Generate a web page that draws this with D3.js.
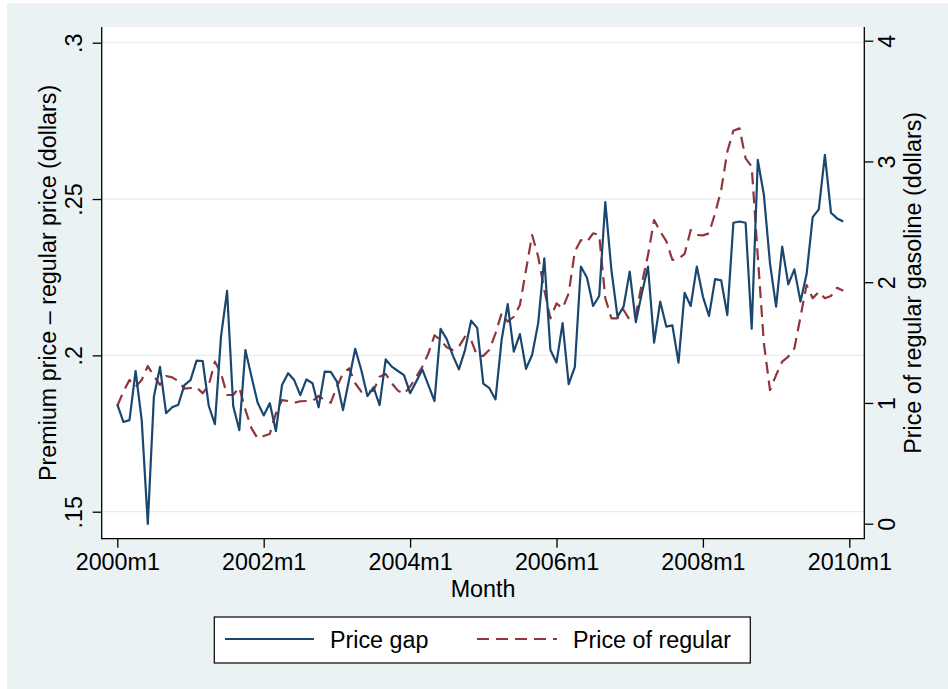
<!DOCTYPE html>
<html>
<head>
<meta charset="utf-8">
<script src="https://cdn.jsdelivr.net/npm/d3@7"></script>
<style>
  html, body { margin: 0; padding: 0; background: #ffffff; }
  svg { display: block; }
  text { font-family: "Liberation Sans", Arial, Helvetica, sans-serif; }
</style>
</head>
<body>
<svg id="chart" width="948" height="689"></svg>
<script>
// ---- data ----
const xTickMonths = [0, 24, 48, 72, 96, 120];
const xTickLabels = ["2000m1", "2002m1", "2004m1", "2006m1", "2008m1", "2010m1"];
const leftTicks = [0.15, 0.2, 0.25, 0.3];
const leftTickLabels = [".15", ".2", ".25", ".3"];
const rightTicks = [0, 1, 2, 3, 4];
const rightTickLabels = ["0", "1", "2", "3", "4"];

// Premium price - regular price (dollars), monthly 2000m1..2009m12
const priceGap = [
  0.1843, 0.1787, 0.1793, 0.1950, 0.1793, 0.1461, 0.1868, 0.1963, 0.1815, 0.1834, 0.1842, 0.1905,
  0.1921, 0.1983, 0.1982, 0.1838, 0.1780, 0.2060, 0.2206, 0.1838, 0.1761, 0.2017, 0.1932, 0.1849,
  0.1808, 0.1847, 0.1758, 0.1905, 0.1943, 0.1921, 0.1873, 0.1923, 0.1911, 0.1834, 0.1948, 0.1947,
  0.1916, 0.1825, 0.1923, 0.2021, 0.1953, 0.1870, 0.1898, 0.1841, 0.1987, 0.1964, 0.1950, 0.1937,
  0.1879, 0.1916, 0.1955, 0.1905, 0.1854, 0.2085, 0.2052, 0.2000, 0.1955, 0.2017, 0.2111, 0.2088,
  0.1910, 0.1895, 0.1859, 0.2049, 0.2164, 0.2012, 0.2068, 0.1957, 0.2001, 0.2103, 0.2310, 0.2017,
  0.1977, 0.2103, 0.1908, 0.1962, 0.2284, 0.2248, 0.2158, 0.2190, 0.2490, 0.2273, 0.2124, 0.2156,
  0.2268, 0.2106, 0.2199, 0.2284, 0.2041, 0.2172, 0.2092, 0.2096, 0.1977, 0.2200, 0.2158, 0.2284,
  0.2188, 0.2126, 0.2244, 0.2240, 0.2129, 0.2424, 0.2428, 0.2424, 0.2085, 0.2625, 0.2513, 0.2294,
  0.2156, 0.2348, 0.2227, 0.2275, 0.2172, 0.2260, 0.2442, 0.2467, 0.2641, 0.2456, 0.2438, 0.2428
];

// Price of regular gasoline (dollars)
const priceRegular = [
  0.975, 1.093, 1.190, 1.135, 1.190, 1.306, 1.223, 1.149, 1.223, 1.212, 1.182, 1.118,
  1.124, 1.129, 1.080, 1.149, 1.342, 1.245, 1.066, 1.066, 1.129, 0.942, 0.790, 0.707,
  0.726, 0.743, 0.914, 1.024, 1.016, 1.002, 1.014, 1.016, 1.016, 1.058, 1.024, 1.002,
  1.135, 1.245, 1.287, 1.163, 1.093, 1.091, 1.102, 1.217, 1.240, 1.163, 1.102, 1.074,
  1.135, 1.217, 1.300, 1.411, 1.560, 1.521, 1.461, 1.439, 1.466, 1.549, 1.521, 1.389,
  1.390, 1.440, 1.577, 1.742, 1.673, 1.714, 1.811, 2.101, 2.391, 2.211, 1.935, 1.701,
  1.825, 1.784, 1.908, 2.253, 2.349, 2.335, 2.405, 2.391, 1.867, 1.701, 1.701, 1.770,
  1.687, 1.728, 1.991, 2.225, 2.515, 2.420, 2.340, 2.184, 2.195, 2.234, 2.432, 2.391,
  2.388, 2.405, 2.571, 2.764, 3.081, 3.255, 3.274, 3.026, 2.957, 2.211, 1.494, 1.107,
  1.231, 1.342, 1.383, 1.452, 1.714, 1.977, 1.867, 1.921, 1.867, 1.886, 1.954, 1.930
];

const seriesNames = ["Price gap", "Price of regular"];
const xTitle = "Month";
const leftTitle = "Premium price \u2013 regular price (dollars)";
const rightTitle = "Price of regular gasoline (dollars)";

// ---- layout ----
const W = 948, H = 689;
const plot = { left: 101.7, right: 864.3, top: 27, bottom: 538.7 };
const colGap = "#1A476F", colReg = "#90353B";
const bgCol = "#EAF2F3";
const fs = 23.3;

const svg = d3.select("#chart");

svg.append("rect").attr("x", 7).attr("y", 3.3).attr("width", W - 7).attr("height", H - 3.3).attr("fill", bgCol);

svg.append("rect").attr("x", plot.left).attr("y", plot.top)
  .attr("width", plot.right - plot.left).attr("height", plot.bottom - plot.top).attr("fill", "#ffffff");

const x = d3.scaleLinear().domain([0, 120]).range([117.3, 849.3]);
const yL = d3.scaleLinear().domain([0.15, 0.3]).range([511.7, 42.7]);
const yR = d3.scaleLinear().domain([0, 4]).range([523.7, 40.7]);

// gridlines
svg.append("g").selectAll("line").data(leftTicks).join("line")
  .attr("x1", plot.left).attr("x2", plot.right)
  .attr("y1", d => yL(d)).attr("y2", d => yL(d))
  .attr("stroke", "#E4EEF0").attr("stroke-width", 1.3);

// lines
const gapLine = d3.line().x((d, i) => x(i)).y(d => yL(d));
const regLine = d3.line().x((d, i) => x(i)).y(d => yR(d));

svg.append("path").datum(priceRegular).attr("d", regLine)
  .attr("fill", "none").attr("stroke", colReg).attr("stroke-width", 2.2)
  .attr("stroke-dasharray", "12,7").attr("stroke-linejoin", "round");

svg.append("path").datum(priceGap).attr("d", gapLine)
  .attr("fill", "none").attr("stroke", colGap).attr("stroke-width", 2.2)
  .attr("stroke-linejoin", "round");

// axes
function styleAxis(g) {
  g.select(".domain").remove();
  g.selectAll(".tick line").attr("stroke", "#000").attr("stroke-width", 1.3);
  g.selectAll(".tick text").attr("font-size", fs).attr("fill", "#000")
    .attr("font-family", "'Liberation Sans', Arial, sans-serif");
}

const gL = svg.append("g").attr("transform", `translate(${plot.left},0)`)
  .call(d3.axisLeft(yL).tickValues(leftTicks).tickSize(9)
    .tickFormat((d, i) => leftTickLabels[i]));
styleAxis(gL);
gL.selectAll(".tick text").attr("transform", "rotate(-90)")
  .attr("x", 0).attr("y", -19.7).attr("dy", 0).attr("text-anchor", "middle");

const gR = svg.append("g").attr("transform", `translate(${plot.right},0)`)
  .call(d3.axisRight(yR).tickValues(rightTicks).tickSize(9)
    .tickFormat((d, i) => rightTickLabels[i]));
styleAxis(gR);
gR.selectAll(".tick text").attr("transform", "rotate(-90)")
  .attr("x", 0).attr("y", 31).attr("dy", 0).attr("text-anchor", "middle");

const gB = svg.append("g").attr("transform", `translate(0,${plot.bottom})`)
  .call(d3.axisBottom(x).tickValues(xTickMonths).tickSize(9)
    .tickFormat((d, i) => xTickLabels[i]));
styleAxis(gB);
gB.selectAll(".tick text").attr("y", 31.3).attr("dy", 0);

// axis lines
svg.append("line").attr("x1", plot.left).attr("x2", plot.left).attr("y1", plot.top).attr("y2", plot.bottom + 0.65)
  .attr("stroke", "#000").attr("stroke-width", 1.3);
svg.append("line").attr("x1", plot.right).attr("x2", plot.right).attr("y1", plot.top).attr("y2", plot.bottom + 0.65)
  .attr("stroke", "#000").attr("stroke-width", 1.3);
svg.append("line").attr("x1", plot.left).attr("x2", plot.right).attr("y1", plot.bottom).attr("y2", plot.bottom)
  .attr("stroke", "#000").attr("stroke-width", 1.3);

// axis titles
svg.append("text").attr("x", (plot.left + plot.right) / 2).attr("y", 597)
  .attr("text-anchor", "middle").attr("font-size", fs).text(xTitle);
const cy = (plot.top + plot.bottom) / 2;
svg.append("text").attr("transform", `translate(56,${cy}) rotate(-90)`)
  .attr("text-anchor", "middle").attr("font-size", fs).text(leftTitle);
svg.append("text").attr("transform", `translate(921,${cy}) rotate(-90)`)
  .attr("text-anchor", "middle").attr("font-size", fs).text(rightTitle);

// legend
const lg = svg.append("g");
lg.append("rect").attr("x", 214.3).attr("y", 617).attr("width", 536).attr("height", 46)
  .attr("fill", "#fff").attr("stroke", "#000").attr("stroke-width", 1.2);
lg.append("line").attr("x1", 225).attr("x2", 314).attr("y1", 639).attr("y2", 639)
  .attr("stroke", colGap).attr("stroke-width", 2.2);
lg.append("text").attr("x", 330).attr("y", 648).attr("font-size", fs).text(seriesNames[0]);
lg.append("line").attr("x1", 477).attr("x2", 557).attr("y1", 639).attr("y2", 639)
  .attr("stroke", colReg).attr("stroke-width", 2.2).attr("stroke-dasharray", "12,7");
lg.append("text").attr("x", 573).attr("y", 648).attr("font-size", fs).text(seriesNames[1]);
</script>
</body>
</html>
